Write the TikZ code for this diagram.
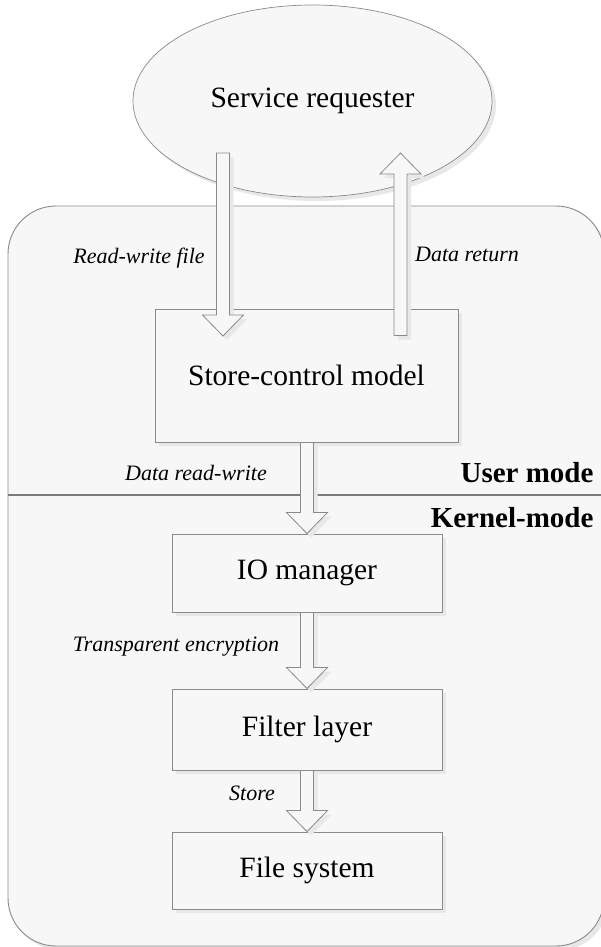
\documentclass[tikz,border=0pt]{standalone}
\usepackage{fontspec}
\setmainfont{Liberation Serif}
\usetikzlibrary{shapes.geometric,calc,shadows}
\definecolor{fillg}{HTML}{F7F7F7}
\definecolor{edgeg}{HTML}{8A8A8A}
\definecolor{shad}{HTML}{E8E8E8}
\tikzset{
  shd/.style={drop shadow={shadow xshift=4pt,shadow yshift=-4pt,fill=shad,opacity=1}},
  modebox/.style={draw=edgeg,fill=fillg,line width=0.9pt,rounded corners=48pt,shd},
  reqshape/.style={ellipse,draw=edgeg,fill=fillg,line width=0.7pt,minimum width=359pt,minimum height=192pt,shd,
    font=\fontsize{29.5}{35}\selectfont},
  blk/.style={rectangle,draw=edgeg,fill=fillg,line width=0.9pt,shd,font=\fontsize{29.5}{35}\selectfont},
  lbl/.style={font=\fontsize{22}{26}\itshape},
  modelbl/.style={font=\fontsize{29}{34}\bfseries,anchor=east},
  barrow/.style={draw=edgeg,fill=fillg,line width=0.8pt,shd},
  sepline/.style={draw=edgeg!90!black,line width=1.3pt}
}
\newcommand\blkdn[2]{\draw[barrow] ($(#1)+(-6.5,0)$) -- ($(#2)+(-6.5,-21)$) -- ($(#2)+(-20.5,-21)$) -- (#2) -- ($(#2)+(20.5,-21)$) -- ($(#2)+(6.5,-21)$) -- ($(#1)+(6.5,0)$) -- cycle;}
\newcommand\blkup[2]{\draw[barrow] ($(#1)+(-6.5,0)$) -- ($(#2)+(-6.5,21)$) -- ($(#2)+(-20.5,21)$) -- (#2) -- ($(#2)+(20.5,21)$) -- ($(#2)+(6.5,21)$) -- ($(#1)+(6.5,0)$) -- cycle;}
\begin{document}
\begin{tikzpicture}[x=1pt,y=-1pt]
\useasboundingbox (0,0) rectangle (600,947);
% user / kernel frame
\node[modebox,minimum width=596pt,minimum height=740pt] (mode) at (306,576) {};
% service requester
\node[reqshape] (sr) at (312.5,101) {Service requester};
% boxes
\node[blk,minimum width=303pt,minimum height=133pt] (scm) at (306.5,375.5) {Store-control model};
\node[blk,minimum width=270pt,minimum height=78pt] (io) at (307,573) {IO manager};
\node[blk,minimum width=270pt,minimum height=81pt] (fl) at (307,729.5) {Filter layer};
\node[blk,minimum width=270pt,minimum height=77pt] (fs) at (307,870.5) {File system};
% separator
\coordinate (sepL) at (mode.west |- 0,495);
\coordinate (sepR) at (mode.east |- 0,495);
\draw[sepline] (sepL) -- (sepR);
% labels
\node[lbl] (l1) at (139,258) {Read-write file};
\node[lbl] (l2) at (467,254) {Data return};
\node[lbl] (l3) at (196,473) {Data read-write};
\node[lbl] (l4) at (176,647) {Transparent encryption};
\node[lbl] (l5) at (252,793) {Store};
\node[modelbl] (um) at (597,473) {User mode};
\node[modelbl] (km) at (597,518) {Kernel-mode};
% block arrows
\coordinate (a1s) at ($(sr.center)+(-89.5,52)$);
\coordinate (a1t) at (a1s |- 0,336);
\blkdn{a1s}{a1t}
\coordinate (a2s) at ($(scm.north)+(94,27)$);
\coordinate (a2t) at (a2s |- 0,153);
\blkup{a2s}{a2t}
\coordinate (a3s) at (scm.south -| io.north);
\blkdn{a3s}{io.north}
\blkdn{io.south}{fl.north}
\blkdn{fl.south}{fs.north}
\end{tikzpicture}
\end{document}
